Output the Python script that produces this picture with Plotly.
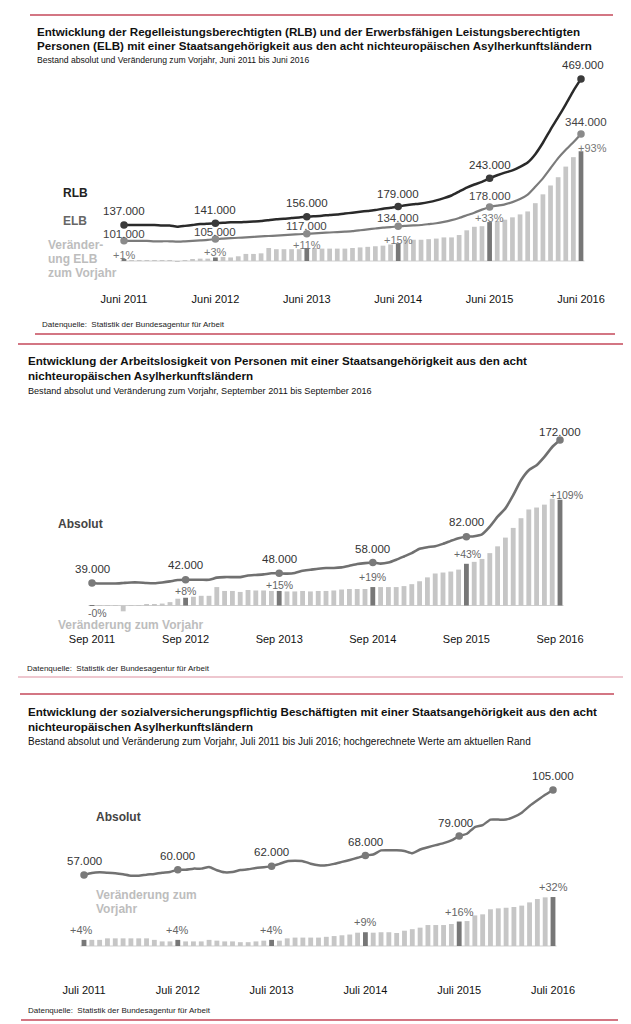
import plotly.graph_objects as go

W, H = 631, 1024
FONT = "Liberation Sans, Arial, Helvetica, sans-serif"

# ---------------- DATA ----------------
months = list(range(61))  # 61 monthly observations per panel
key_idx = [0, 12, 24, 36, 48, 60]

# Panel 1: Juni 2011 - Juni 2016 (thousands / percent)
p1_ticks = ["Juni 2011", "Juni 2012", "Juni 2013", "Juni 2014", "Juni 2015", "Juni 2016"]
p1_rlb = [137, 137, 137, 137, 137, 136, 136, 133, 135, 137, 139, 140, 141,
          142, 143, 143, 144, 145, 146, 148, 150, 151, 153, 154, 156,
          157, 158, 160, 161, 163, 165, 167, 169, 171, 174, 176, 179,
          182, 184, 186, 189, 193, 198, 204, 213, 222, 229, 235, 243,
          250, 256, 261, 269, 279, 298, 324, 354, 382, 411, 442, 469]
p1_elb = [101, 101, 101, 101, 100, 100, 100, 99, 100, 101, 102, 103, 105,
          106, 107, 108, 109, 110, 111, 112, 113, 114, 115, 116, 117,
          118, 119, 120, 121, 122, 123, 125, 127, 129, 131, 132, 134,
          135, 136, 137, 139, 141, 144, 148, 153, 159, 165, 172, 178,
          181, 184, 189, 196, 206, 224, 243, 266, 289, 308, 325, 344]
p1_pct = [1, 0.5, 0.5, 0.5, 0.5, 0.5, 0.3, -0.4, 0.3, 1, 2, 2, 3,
          3.5, 3, 4, 6, 6, 6.5, 11, 10, 10, 10, 10, 11,
          11, 10.5, 10.5, 10.5, 10.5, 11, 11.5, 12, 12.5, 13, 14, 15,
          17.5, 18, 18, 18.5, 19, 20, 20, 22, 26, 29, 29.5, 33,
          34, 35, 37, 39.5, 42, 49, 56.5, 64, 71, 80, 88, 93]

# Panel 2: Sep 2011 - Sep 2016
p2_ticks = ["Sep 2011", "Sep 2012", "Sep 2013", "Sep 2014", "Sep 2015", "Sep 2016"]
p2_abs = [39, 38.5, 38.5, 38.5, 39, 39.5, 39.5, 39, 38.8, 39.5, 40.5, 41.8, 42,
          42, 42, 42, 44, 44.5, 44.5, 44.5, 46, 46.5, 47, 48, 48,
          47.7, 48.3, 50.4, 51.3, 52.3, 53, 53, 53.5, 55, 56.6, 57.5, 58,
          57, 58, 60.6, 63.7, 66.8, 70.8, 72.3, 73.2, 75.4, 78.2, 80.7, 82,
          82.5, 84.3, 91.4, 100.7, 108.4, 120.7, 134.6, 143.9, 148.6, 156.3, 165.5, 172]
p2_pct = [-0.3, 0.2, 0.2, 0.3, -6, 0.5, 0.5, 0.7, 1, 2, 3.5, 7, 8,
          9, 10, 10, 19, 15, 15, 14, 16, 15.5, 15.5, 15, 15,
          14.5, 14.5, 15, 14.5, 15, 15, 15.5, 16.5, 17, 17, 17, 19,
          19, 19, 19, 20, 22, 25, 29, 33, 34, 35, 37, 43,
          45, 48, 54, 61, 70, 80, 90, 99, 101, 104, 110, 109]

# Panel 3: Juli 2011 - Juli 2016
p3_ticks = ["Juli 2011", "Juli 2012", "Juli 2013", "Juli 2014", "Juli 2015", "Juli 2016"]
p3_abs = [57, 58.1, 58.5, 58.3, 58, 57.4, 56.6, 56.6, 57.2, 57.6, 58.3, 58.7, 60,
          60, 60.6, 60.6, 61.5, 59.7, 58.5, 58.7, 59.8, 60.2, 61, 61.4, 62,
          63.3, 64.8, 65, 64.8, 63.4, 62.5, 62.5, 63.3, 64.4, 65.5, 66.7, 68,
          68.6, 70.9, 71, 71, 70.6, 69.3, 71.4, 72.7, 73.9, 75, 76.5, 79,
          80.3, 84.1, 85.2, 88.3, 88.3, 88.3, 89.8, 92.2, 96, 99.2, 102.3, 105]
p3_pct = [4, 4, 4, 5, 5, 5, 5, 5, 5, 4, 3, 3, 4,
          3, 3, 3, 4, 3.5, 3, 3, 2.5, 2.5, 3, 3.5, 4,
          3.5, 5, 5.5, 5.5, 5.5, 5.5, 6, 6.5, 7, 7.5, 8.7, 9,
          8.7, 9, 9, 8.5, 10, 11, 12, 13.7, 13.7, 13.7, 14.4, 16,
          16.3, 20, 20.7, 24, 24.6, 25, 25.5, 26.4, 28.5, 30.7, 31.8, 32]

# ---------------- LAYOUT HELPERS ----------------
def py(p):
    return 1 - p / H

def pxx(p):
    return p / W

def xrange_for(x0px, x60px):
    s = (x60px - x0px) / 60.0
    return [-x0px / s, (W - x0px) / s]

def yrange_for(v0, p0, s, top, bot):
    return [v0 - (bot - p0) / s, v0 + (p0 - top) / s]

LIGHT_BAR = "#c6c6c6"
DARK_BAR = "#777777"
bar_colors = [DARK_BAR if i in key_idx else LIGHT_BAR for i in months]

fig = go.Figure()

panels = [
    dict(xa="x", ya_bar="y", ya_line="y2", x0=116, x60=573, top=55, bot=281,
         bar0=253, bars=1.18, lv0=137, lp0=217, ls=0.44, ticks=p1_ticks),
    dict(xa="x2", ya_bar="y3", ya_line="y4", x0=84, x60=552, top=405, bot=621,
         bar0=597.5, bars=0.97, lv0=39, lp0=575, ls=1.075, ticks=p2_ticks),
    dict(xa="x3", ya_bar="y5", ya_line="y6", x0=76, x60=545, top=755, bot=972,
         bar0=938, bars=1.53, lv0=57, lp0=867, ls=1.77, ticks=p3_ticks),
]

pct_series = [p1_pct, p2_pct, p3_pct]

for k, (pn, pct) in enumerate(zip(panels, pct_series)):
    fig.add_trace(go.Bar(x=months, y=pct, xaxis=pn["xa"], yaxis=pn["ya_bar"],
                         width=0.62, marker=dict(color=bar_colors, line=dict(width=0)),
                         hoverinfo="skip", showlegend=False))

# lines
line_specs = [
    (p1_elb, 0, "#7b7b7b", 2.2, "#8a8a8a"),
    (p1_rlb, 0, "#2a2a2a", 2.5, "#3a3a3a"),
    (p2_abs, 1, "#707070", 2.6, "#7a7a7a"),
    (p3_abs, 2, "#727272", 2.5, "#7a7a7a"),
]
for vals, k, col, wdt, mcol in line_specs:
    pn = panels[k]
    fig.add_trace(go.Scatter(x=months, y=vals, xaxis=pn["xa"], yaxis=pn["ya_line"],
                             mode="lines", line=dict(color=col, width=wdt, shape="spline", smoothing=0.5),
                             cliponaxis=False, hoverinfo="skip", showlegend=False))
    fig.add_trace(go.Scatter(x=key_idx, y=[vals[i] for i in key_idx], xaxis=pn["xa"], yaxis=pn["ya_line"],
                             mode="markers", marker=dict(color=mcol, size=7.5),
                             cliponaxis=False, hoverinfo="skip", showlegend=False))

layout = dict(width=W, height=H, margin=dict(l=0, r=0, t=0, b=0),
              paper_bgcolor="white", plot_bgcolor="white", barmode="overlay",
              font=dict(family=FONT, color="#222"))

shapes = []
for k, pn in enumerate(panels):
    n = "" if k == 0 else str(k + 1)
    bar_n = "" if k == 0 else str(2 * k + 1)
    line_n = str(2 * k + 2)
    dom = [py(pn["bot"]), py(pn["top"])]
    layout["xaxis" + n] = dict(domain=[0, 1], range=xrange_for(pn["x0"], pn["x60"]),
                              anchor="y" + bar_n, tickvals=key_idx, ticktext=pn["ticks"],
                              ticks="", showline=False, showgrid=False, zeroline=False,
                              tickfont=dict(size=11, color="#111", family=FONT),
                              ticklabelstandoff=2, fixedrange=True)
    layout["yaxis" + bar_n] = dict(domain=dom, range=yrange_for(0, pn["bar0"], pn["bars"], pn["top"], pn["bot"]),
                                  anchor="x" + n, visible=False, fixedrange=True)
    layout["yaxis" + line_n] = dict(overlaying="y" + bar_n, anchor="x" + n,
                                   range=yrange_for(pn["lv0"], pn["lp0"], pn["ls"], pn["top"], pn["bot"]),
                                   visible=False, fixedrange=True)
    # baseline under bars
    shapes.append(dict(type="line", xref="x" + n, yref="y" + bar_n, x0=-0.45, x1=60.45, y0=0, y1=0,
                       line=dict(color="#d0d0d0", width=1), layer="below"))

# red separator rules
RED = "#c4485a"
for (y, x0, x1, col) in [(7, 22, 605, RED), (326, 27, 607, RED), (336, 10, 620, RED),
                          (669, 10, 620, "#e8b4bf"), (686, 12, 606, RED), (1012, 13, 610, RED)]:
    shapes.append(dict(type="line", xref="paper", yref="paper", x0=pxx(x0), x1=pxx(x1),
                       y0=py(y), y1=py(y), line=dict(color=col, width=1.7)))
layout["shapes"] = shapes

ann = []

def text_px(txt, x, y, size, color, bold=False, family=FONT):
    ann.append(dict(text=("<b>%s</b>" % txt) if bold else txt, x=pxx(x), y=py(y), xref="paper", yref="paper",
                    xanchor="left", yanchor="middle", showarrow=False,
                    font=dict(size=size, color=color, family=family)))

# titles
text_px("Entwicklung der Regelleistungsberechtigten (RLB) und der Erwerbsfähigen Leistungsberechtigten", 27, 23, 11.6, "#111", True)
text_px("Personen (ELB) mit einer Staatsangehörigkeit aus den acht nichteuropäischen Asylherkunftsländern", 27, 37.5, 11.6, "#111", True)
text_px("Bestand absolut und Veränderung zum Vorjahr, Juni 2011 bis Juni 2016", 27, 52, 8.6, "#111")
text_px("Entwicklung der Arbeitslosigkeit von Personen mit einer Staatsangehörigkeit aus den acht", 18, 352, 11.6, "#111", True)
text_px("nichteuropäischen Asylherkunftsländern", 18, 367, 11.6, "#111", True)
text_px("Bestand absolut und Veränderung zum Vorjahr, September 2011 bis September 2016", 18, 383, 9.1, "#111")
text_px("Entwicklung der sozialversicherungspflichtig Beschäftigten mit einer Staatsangehörigkeit aus den acht", 18, 703, 11.6, "#111", True)
text_px("nichteuropäischen Asylherkunftsländern", 18, 718, 11.6, "#111", True)
text_px("Bestand absolut und Veränderung zum Vorjahr, Juli 2011 bis Juli 2016; hochgerechnete Werte am aktuellen Rand", 18, 733, 10, "#111")

# sources
for x, y in [(32, 316), (17, 660), (18, 1002)]:
    text_px("Datenquelle:  Statistik der Bundesagentur für Arbeit", x, y, 8, "#222")

# series labels
text_px("RLB", 53, 185, 12, "#222", True)
text_px("ELB", 53, 213, 12, "#666", True)
for t, y in [("Veränder-", 237), ("ung ELB", 251), ("zum Vorjahr", 265)]:
    text_px(t, 38, y, 12, "#bdbdbd", True)
text_px("Absolut", 48, 516, 12, "#444", True)
text_px("Veränderung zum Vorjahr", 48, 617, 12, "#bdbdbd", True)
text_px("Absolut", 86, 809, 12, "#444", True)
text_px("Veränderung zum", 86, 887, 12, "#bdbdbd", True)
text_px("Vorjahr", 86, 901, 12, "#bdbdbd", True)

def de_thousands(v):
    return "%d.000" % round(v)

def de_pct(v):
    return format(v, "+.0f") + "%"

def data_labels(vals, xa, ya, fmt, yshifts, xshifts, size, color):
    for j, i in enumerate(key_idx):
        ann.append(dict(text=fmt(vals[i]), x=i, y=vals[i], xref=xa, yref=ya, showarrow=False,
                        xanchor="center", yanchor="middle", yshift=yshifts[j], xshift=xshifts[j],
                        font=dict(size=size, color=color, family=FONT)))

data_labels(p1_rlb, "x", "y2", de_thousands, [14, 13, 13.5, 12.5, 13.5, 14], [0, 0, 0, 0, 0, 2], 11.5, "#333")
data_labels(p1_elb, "x", "y2", de_thousands, [7, 7, 8, 8, 10.5, 12], [0, 0, 0, 0, 0, 5], 11.5, "#444")
data_labels(p1_pct, "x", "y", de_pct, [5, 5.5, 3.5, 3.5, 4, 3.5], [0, 0, 0, 0, 0, 11], 11, "#777")
data_labels(p2_abs, "x2", "y4", de_thousands, [14, 15, 14, 13.5, 14.5, 8], [0, 0, 0, 0, 0, 0], 11.5, "#333")
data_labels(p2_pct, "x2", "y3", de_pct, [-7, 6.5, 6, 10, 10, 5], [5, 0, 0, 0, 1, 6], 10.5, "#666")
data_labels(p3_abs, "x3", "y6", de_thousands, [14, 14, 14, 13.5, 13, 14], [0, 0, 0, 0, -4, 0], 11.5, "#333")
data_labels(p3_pct, "x3", "y5", de_pct, [10, 10, 10, 10, 10, 10], [-3, 0, 0, 0, 0, 0], 11, "#666")

layout["annotations"] = ann
fig.update_layout(**layout)
fig.write_html("out.html")
